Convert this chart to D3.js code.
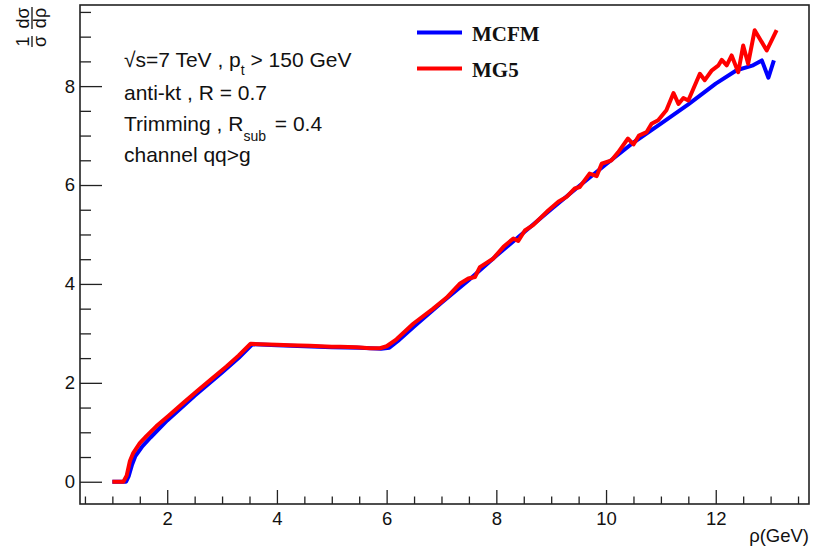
<!DOCTYPE html>
<html>
<head>
<meta charset="utf-8">
<script src="https://cdn.jsdelivr.net/npm/d3@7"></script>
<style>
  body { margin: 0; background: #fff; }
  svg { display: block; }
</style>
</head>
<body>
<svg id="chart" width="822" height="552"></svg>
<script>
// MCFM curve
var mcfmRho = [1.00, 1.25, 1.30, 1.36, 1.42, 1.55, 1.70, 2.00, 2.50, 3.00, 3.30, 3.55, 4.00, 4.50, 5.00, 5.50, 5.90, 6.05, 6.20, 6.50, 7.00, 7.50, 8.00, 8.50, 9.00, 9.50, 10.00, 10.50, 11.00, 11.50, 12.00, 12.38, 12.68, 12.84, 12.96, 13.06];
var mcfmVal = [0, 0, 0.12, 0.35, 0.52, 0.72, 0.90, 1.24, 1.74, 2.21, 2.50, 2.78, 2.76, 2.74, 2.72, 2.71, 2.69, 2.71, 2.84, 3.14, 3.62, 4.08, 4.57, 5.04, 5.51, 5.97, 6.42, 6.86, 7.24, 7.63, 8.05, 8.32, 8.42, 8.52, 8.17, 8.52];

// MG5 curve
var mg5Rho = [1.00, 1.20, 1.26, 1.32, 1.38, 1.50, 1.62, 1.80, 2.02, 2.30, 2.54, 2.80, 3.08, 3.30, 3.52, 3.70, 4.00, 4.24, 4.60, 5.00, 5.15, 5.45, 5.70, 5.88, 6.00, 6.18, 6.49, 6.85, 7.09, 7.34, 7.49, 7.61, 7.70, 7.94, 8.13, 8.31, 8.40, 8.52, 8.67, 8.95, 9.13, 9.28, 9.43, 9.52, 9.70, 9.83, 9.92, 10.10, 10.22, 10.40, 10.50, 10.60, 10.74, 10.83, 10.95, 11.10, 11.23, 11.32, 11.41, 11.50, 11.71, 11.80, 11.93, 12.05, 12.11, 12.20, 12.29, 12.41, 12.50, 12.59, 12.71, 12.93, 13.11];
var mg5Val = [0, 0, 0.12, 0.42, 0.58, 0.78, 0.92, 1.12, 1.33, 1.60, 1.83, 2.07, 2.33, 2.55, 2.79, 2.78, 2.77, 2.76, 2.75, 2.73, 2.73, 2.72, 2.70, 2.70, 2.74, 2.88, 3.20, 3.50, 3.72, 4.01, 4.11, 4.14, 4.34, 4.51, 4.75, 4.92, 4.87, 5.08, 5.19, 5.49, 5.66, 5.76, 5.93, 5.96, 6.23, 6.18, 6.43, 6.50, 6.66, 6.94, 6.82, 7.00, 7.07, 7.24, 7.31, 7.51, 7.86, 7.64, 7.76, 7.71, 8.25, 8.12, 8.32, 8.42, 8.53, 8.42, 8.62, 8.28, 8.82, 8.45, 9.13, 8.72, 9.13];

var xMajor = [2, 4, 6, 8, 10, 12];
var yMajor = [0, 2, 4, 6, 8];
var seriesNames = ["MCFM", "MG5"];
var seriesColors = ["#0000ff", "#ff0000"];

var frame = { left: 80, right: 809, top: 5, bottom: 504 };

var svg = d3.select("#chart");

var x = d3.scaleLinear().domain([0.41, 13.7]).range([frame.left, frame.right]);
var y = d3.scaleLinear().domain([-0.45, 9.64]).range([frame.bottom, frame.top]);

var xMinor = d3.range(0.5, 13.51, 0.5).filter(d => xMajor.indexOf(d) < 0);
var yMinor = d3.range(0.5, 9.51, 0.5).filter(d => yMajor.indexOf(d) < 0);

// axes (ticks point inward, ROOT style)
var axisColor = "#222";
var labelFont = "18.5px 'Liberation Sans', Arial, sans-serif";

svg.append("g")
    .attr("transform", "translate(0," + frame.bottom + ")")
    .call(d3.axisBottom(x).tickValues(xMinor).tickSize(-7.5).tickFormat(""))
    .call(g => g.select(".domain").remove());

svg.append("g")
    .attr("transform", "translate(0," + frame.bottom + ")")
    .call(d3.axisBottom(x).tickValues(xMajor).tickSize(-14).tickPadding(8).tickFormat(d3.format("d")))
    .call(g => g.select(".domain").remove())
    .call(g => g.selectAll("text").style("font", labelFont).attr("fill", "#111"));

svg.append("g")
    .attr("transform", "translate(" + frame.left + ",0)")
    .call(d3.axisLeft(y).tickValues(yMinor).tickSize(-11).tickFormat(""))
    .call(g => g.select(".domain").remove());

svg.append("g")
    .attr("transform", "translate(" + frame.left + ",0)")
    .call(d3.axisLeft(y).tickValues(yMajor).tickSize(-22).tickPadding(5).tickFormat(d3.format("d")))
    .call(g => g.select(".domain").remove())
    .call(g => g.selectAll("text").style("font", labelFont).attr("fill", "#111"));

svg.selectAll(".tick line").attr("stroke", axisColor).attr("stroke-width", 1.3);

// frame
svg.append("rect")
    .attr("x", frame.left)
    .attr("y", frame.top)
    .attr("width", frame.right - frame.left)
    .attr("height", frame.bottom - frame.top)
    .attr("fill", "none")
    .attr("stroke", axisColor)
    .attr("stroke-width", 1.6);

// curves
var line = d3.line().x(d => x(d[0])).y(d => y(d[1]));
var series = [
    d3.zip(mcfmRho, mcfmVal),
    d3.zip(mg5Rho, mg5Val)
];

svg.append("g")
    .selectAll("path")
    .data(series)
    .join("path")
    .attr("d", line)
    .attr("fill", "none")
    .attr("stroke", (d, i) => seriesColors[i])
    .attr("stroke-width", 4)
    .attr("stroke-linejoin", "round");

// legend
var legend = svg.append("g")
    .selectAll("g")
    .data(seriesNames)
    .join("g")
    .attr("transform", (d, i) => "translate(417," + (32.5 + i * 36) + ")");

legend.append("line")
    .attr("x1", 0).attr("x2", 45)
    .attr("stroke", (d, i) => seriesColors[i])
    .attr("stroke-width", 4);

legend.append("text")
    .attr("x", 55)
    .attr("y", 8)
    .style("font", "bold 21px 'Liberation Serif', 'Times New Roman', serif")
    .attr("fill", "#111")
    .text(d => d);

// annotation block
var note = svg.append("g")
    .style("font", "21px 'Liberation Sans', Arial, sans-serif")
    .attr("fill", "#111");

var l1 = note.append("text").attr("x", 124).attr("y", 67);
l1.append("tspan").text("\u221As=7 TeV , p");
l1.append("tspan").attr("dy", 8).style("font-size", "14px").text("t");
l1.append("tspan").attr("dy", -8).text(" > 150 GeV");

note.append("text").attr("x", 124).attr("y", 100).text("anti-kt , R = 0.7");

var l3 = note.append("text").attr("x", 124).attr("y", 131);
l3.append("tspan").text("Trimming , R");
l3.append("tspan").attr("dy", 10).style("font-size", "14px").text("sub");
l3.append("tspan").attr("dx", 3).attr("dy", -10).text(" = 0.4");

note.append("text").attr("x", 124).attr("y", 162).text("channel qq>g");

// x title
svg.append("text")
    .attr("x", frame.right)
    .attr("y", 542)
    .attr("text-anchor", "end")
    .style("font", "18.5px 'Liberation Sans', Arial, sans-serif")
    .attr("fill", "#111")
    .text("\u03C1(GeV)");

// y title: 1/sigma dsigma/drho, rotated
var yt = svg.append("g")
    .attr("transform", "translate(32,47) rotate(-90)")
    .style("font", "18px 'Liberation Sans', Arial, sans-serif")
    .attr("fill", "#111");

var fracs = [["1", "\u03C3", 0, 11], ["d\u03C3", "d\u03C1", 18, 22]];
fracs.forEach(f => {
    yt.append("text").attr("x", f[2] + f[3] / 2).attr("y", -3).attr("text-anchor", "middle").text(f[0]);
    yt.append("text").attr("x", f[2] + f[3] / 2).attr("y", 14).attr("text-anchor", "middle").text(f[1]);
    yt.append("line").attr("x1", f[2]).attr("x2", f[2] + f[3]).attr("y1", 0).attr("y2", 0)
        .attr("stroke", "#111").attr("stroke-width", 1.3);
});
</script>
</body>
</html>
